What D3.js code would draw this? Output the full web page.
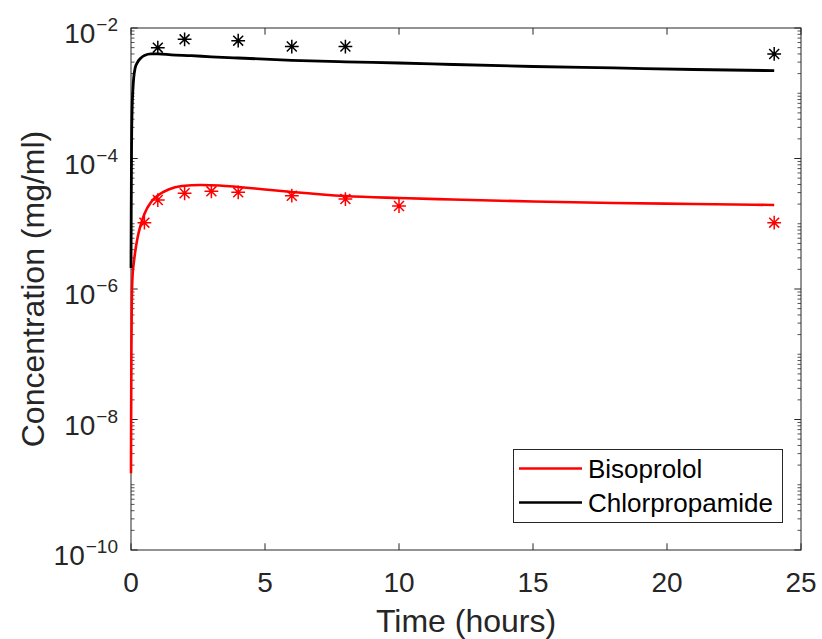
<!DOCTYPE html>
<html lang="en">
<head>
<meta charset="UTF-8">
<title>Concentration vs time</title>
<style>
  body { margin: 0; background: #fff; }
  text { font-family: "Liberation Sans", Arial, Helvetica, sans-serif; fill: #262626; }
</style>
</head>
<body>
<div id="chart"></div>
<script src="https://cdn.jsdelivr.net/npm/d3@7"></script>
<script>
// model curves
var bisoTime = [0, 0.005, 0.015, 0.03, 0.06, 0.1, 0.15, 0.25, 0.35, 0.5, 0.75, 1, 1.4, 1.9, 2.6, 3.3, 4, 5, 6, 8, 10, 12, 15, 18, 21, 24];
var bisoConc = [1.5e-9, 9.8e-9, 1.16e-7, 6.8e-7, 1.64e-6, 2.42e-6, 3.56e-6, 6.27e-6, 9.24e-6, 1.41e-5, 2.15e-5, 2.71e-5, 3.35e-5, 3.79e-5, 3.93e-5, 3.86e-5, 3.66e-5, 3.35e-5, 3.07e-5, 2.66e-5, 2.48e-5, 2.35e-5, 2.19e-5, 2.08e-5, 2.01e-5, 1.94e-5];
var chlorTime = [0, 0.01, 0.02, 0.04, 0.07, 0.1, 0.15, 0.25, 0.35, 0.5, 0.75, 1, 1.5, 2.25, 3, 4, 6, 8, 10, 12, 15, 18, 21, 24];
var chlorConc = [2.1e-6, 2.3e-5, 1.35e-4, 5.5e-4, 1.12e-3, 1.71e-3, 2.39e-3, 3.01e-3, 3.41e-3, 3.79e-3, 4.0e-3, 4.0e-3, 3.88e-3, 3.76e-3, 3.62e-3, 3.47e-3, 3.2e-3, 3.03e-3, 2.91e-3, 2.76e-3, 2.57e-3, 2.44e-3, 2.31e-3, 2.22e-3];

// measured points (stars)
var bisoObsTime = [0.5, 1, 2, 3, 4, 6, 8, 10, 24];
var bisoObs = [1.04e-5, 2.31e-5, 2.93e-5, 3.14e-5, 3.03e-5, 2.69e-5, 2.39e-5, 1.87e-5, 1.04e-5];
var chlorObsTime = [1, 2, 4, 6, 8, 24];
var chlorObs = [5.0e-3, 6.7e-3, 6.4e-3, 5.2e-3, 5.2e-3, 4.0e-3];

var seriesNames = ['Bisoprolol', 'Chlorpropamide'];
var seriesColors = ['#ff0000', '#000000'];
var xTicks = [0, 5, 10, 15, 20, 25];
var yTickExp = [-10, -8, -6, -4, -2];

var width = 822, height = 639;
var margin = { left: 131, right: 21, top: 28, bottom: 89 };
var axisColor = '#262626';

var svg = d3.select('#chart').append('svg')
  .attr('width', width)
  .attr('height', height);

var x = d3.scaleLinear().domain([0, 25]).range([margin.left, width - margin.right]);
var y = d3.scaleLog().domain([1e-10, 1e-2]).range([height - margin.bottom, margin.top]);

var x0 = x.range()[0], x1 = x.range()[1];
var y0 = y.range()[0], y1 = y.range()[1];

// minor ticks on the log axis
var minorVals = [];
for (var e = -10; e < -2; e++) {
  for (var m = 1; m <= 9; m++) {
    if (m === 1 && e % 2 === 0) continue;
    minorVals.push(m * Math.pow(10, e));
  }
}

var g = svg.append('g');

g.selectAll('.yminor')
  .data(minorVals)
  .enter().append('path')
  .attr('d', d => 'M' + x0 + ',' + y(d) + 'h3.5M' + x1 + ',' + y(d) + 'h-3.5')
  .attr('stroke', axisColor)
  .attr('stroke-width', 0.8);

g.selectAll('.ymajor')
  .data(yTickExp)
  .enter().append('path')
  .attr('d', d => 'M' + x0 + ',' + y(Math.pow(10, d)) + 'h6.7M' + x1 + ',' + y(Math.pow(10, d)) + 'h-6.7')
  .attr('stroke', axisColor)
  .attr('stroke-width', 1);

g.selectAll('.xmajor')
  .data(xTicks)
  .enter().append('path')
  .attr('d', d => 'M' + x(d) + ',' + y0 + 'v-6.7M' + x(d) + ',' + y1 + 'v6.7')
  .attr('stroke', axisColor)
  .attr('stroke-width', 1);

// box
g.append('rect')
  .attr('x', x0).attr('y', y1)
  .attr('width', x1 - x0).attr('height', y0 - y1)
  .attr('fill', 'none')
  .attr('stroke', axisColor)
  .attr('stroke-width', 1);

// tick labels
g.selectAll('.xlab')
  .data(xTicks)
  .enter().append('text')
  .attr('x', d => x(d))
  .attr('y', y0 + 42)
  .attr('text-anchor', 'middle')
  .attr('font-size', 28)
  .text(d => d);

var ylab = g.selectAll('.ylab')
  .data(yTickExp)
  .enter().append('text')
  .attr('x', x0 - 13)
  .attr('y', d => y(Math.pow(10, d)) + 15)
  .attr('text-anchor', 'end')
  .attr('font-size', 28);
ylab.append('tspan').text('10');
ylab.append('tspan')
  .attr('dy', -12)
  .attr('dx', 1)
  .attr('font-size', 19)
  .text(d => '\u2212' + Math.abs(d));

// axis titles
svg.append('text')
  .attr('x', (x0 + x1) / 2)
  .attr('y', 632)
  .attr('text-anchor', 'middle')
  .attr('font-size', 32)
  .text('Time (hours)');

svg.append('text')
  .attr('transform', 'translate(44,' + ((y0 + y1) / 2) + ') rotate(-90)')
  .attr('text-anchor', 'middle')
  .attr('font-size', 32)
  .text('Concentration (mg/ml)');

// curves
var line = d3.line()
  .x(d => x(d[0]))
  .y(d => y(d[1]))
  .curve(d3.curveMonotoneX);

var plot = svg.append('g');

plot.append('path')
  .datum(d3.zip(bisoTime, bisoConc))
  .attr('d', line)
  .attr('fill', 'none')
  .attr('stroke', seriesColors[0])
  .attr('stroke-width', 2.6);

plot.append('path')
  .datum(d3.zip(chlorTime, chlorConc))
  .attr('d', line)
  .attr('fill', 'none')
  .attr('stroke', seriesColors[1])
  .attr('stroke-width', 2.8);

// matlab style '*' marker (plus + cross)
var starType = {
  draw: function (ctx, size) {
    var r = Math.sqrt(size) / 2;
    var s = r * 0.72;
    ctx.moveTo(0, -r); ctx.lineTo(0, r);
    ctx.moveTo(-r, 0); ctx.lineTo(r, 0);
    ctx.moveTo(-s, -s); ctx.lineTo(s, s);
    ctx.moveTo(-s, s); ctx.lineTo(s, -s);
  }
};
var star = d3.symbol().type(starType).size(190);

plot.selectAll('.bstar')
  .data(d3.zip(bisoObsTime, bisoObs))
  .enter().append('path')
  .attr('d', star)
  .attr('transform', d => 'translate(' + x(d[0]) + ',' + y(d[1]) + ')')
  .attr('fill', 'none')
  .attr('stroke', seriesColors[0])
  .attr('stroke-width', 1.5);

plot.selectAll('.cstar')
  .data(d3.zip(chlorObsTime, chlorObs))
  .enter().append('path')
  .attr('d', star)
  .attr('transform', d => 'translate(' + x(d[0]) + ',' + y(d[1]) + ')')
  .attr('fill', 'none')
  .attr('stroke', seriesColors[1])
  .attr('stroke-width', 1.5);

// legend
var leg = svg.append('g');
leg.append('rect')
  .attr('x', 513.5).attr('y', 449.5)
  .attr('width', 269).attr('height', 73)
  .attr('fill', '#fff')
  .attr('stroke', axisColor)
  .attr('stroke-width', 1);

var rows = leg.selectAll('.row')
  .data(seriesNames)
  .enter().append('g')
  .attr('transform', (d, i) => 'translate(0,' + (468.5 + i * 34) + ')');

rows.append('line')
  .attr('x1', 519).attr('x2', 582)
  .attr('stroke', (d, i) => seriesColors[i])
  .attr('stroke-width', 2.6);

rows.append('text')
  .attr('x', 588)
  .attr('dy', '0.36em')
  .attr('font-size', 26)
  .style('fill', '#000')
  .text(d => d);
</script>
</body>
</html>
